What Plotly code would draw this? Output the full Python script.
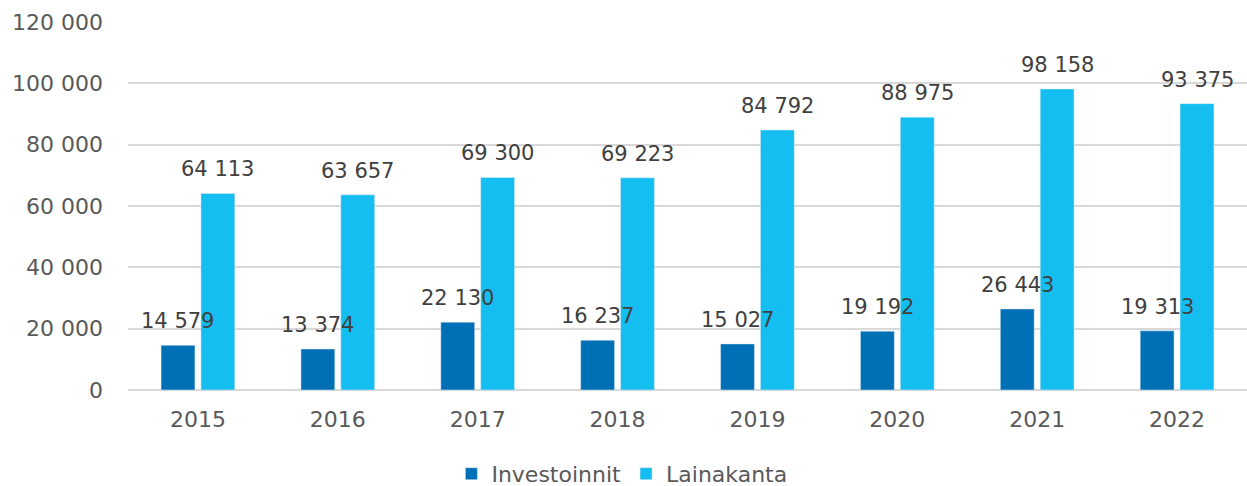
import plotly.graph_objects as go

years = ["2015", "2016", "2017", "2018", "2019", "2020", "2021", "2022"]
investoinnit = [14579, 13374, 22130, 16237, 15027, 19192, 26443, 19313]
lainakanta = [64113, 63657, 69300, 69223, 84792, 88975, 98158, 93375]
y_ticks = [0, 20000, 40000, 60000, 80000, 100000, 120000]

def fmt(v):
    return f"{v:,}".replace(",", " ")

FONT = "DejaVu Sans"
DARK = "#0070B6"
LIGHT = "#15BEF0"

fig = go.Figure()
fig.add_trace(go.Bar(name="Investoinnit", x=years, y=investoinnit, marker_color=DARK))
fig.add_trace(go.Bar(name="Lainakanta", x=years, y=lainakanta, marker_color=LIGHT))

annotations = []
for i, (a, b) in enumerate(zip(investoinnit, lainakanta)):
    annotations.append(dict(x=i, y=a, text=fmt(a), showarrow=False, xshift=-20, yshift=10,
                            yanchor="bottom", font=dict(family=FONT, size=21, color="#404040")))
    annotations.append(dict(x=i, y=b, text=fmt(b), showarrow=False, xshift=20, yshift=10,
                            yanchor="bottom", font=dict(family=FONT, size=21, color="#404040")))

fig.update_layout(
    width=1247, height=486,
    margin=dict(l=128, r=0, t=22, b=96),
    paper_bgcolor="white", plot_bgcolor="white",
    barmode="group", bargap=0.43, bargroupgap=0.15,
    font=dict(family=FONT, size=22, color="#595959"),
    annotations=annotations,
    legend=dict(orientation="h", xref="container", x=0.362, xanchor="left",
                yref="container", y=0.025, yanchor="middle",
                font=dict(family=FONT, size=22, color="#595959"), itemwidth=30,
                traceorder="normal"),
    showlegend=True,
)
fig.update_yaxes(range=[0, 120000], tickvals=y_ticks, ticktext=[fmt(v) for v in y_ticks],
                 showgrid=True, gridcolor="#D9D9D9", gridwidth=1.6, zeroline=True,
                 zerolinecolor="#D9D9D9", zerolinewidth=1.6, ticklabelstandoff=24,
                 showline=False, automargin=False)
fig.update_xaxes(type="category", range=[-0.5, 7.5], showgrid=False, ticklabelstandoff=14,
                 showline=False, automargin=False)

fig.write_html("out.html", config={"displayModeBar": False},
               post_script="document.body.style.margin='0';document.body.style.overflow='hidden';")
